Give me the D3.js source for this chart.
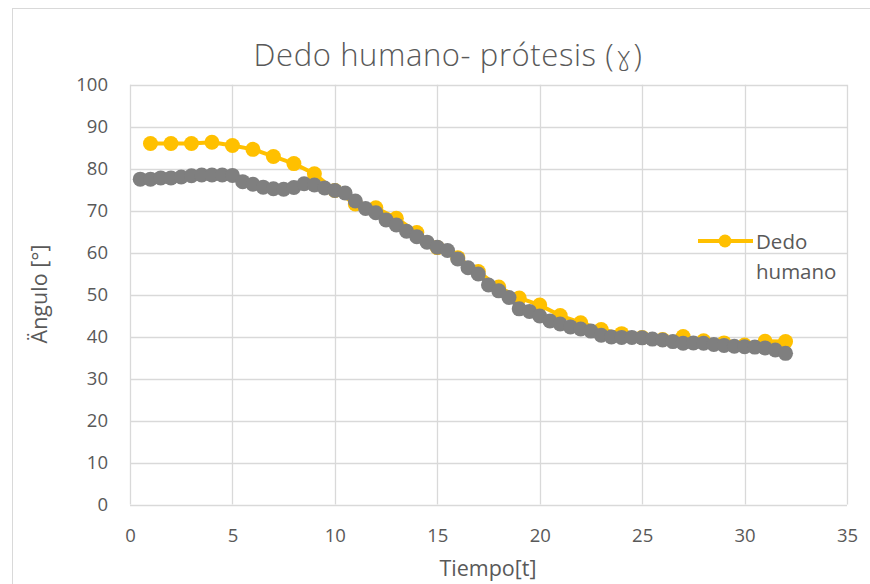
<!DOCTYPE html>
<html><head><meta charset="utf-8">
<script src="https://cdn.jsdelivr.net/npm/d3@7"></script>
<style>
html,body{margin:0;padding:0;background:#fff;}
text{font-family:"Open Sans",sans-serif;fill:#595959;}
</style></head>
<body>
<svg id="chart" width="870" height="584"></svg>
<script>
const title = "Dedo humano- prótesis (ɣ)";
const xTitle = "Tiempo[t]";
const yTitle = "Ängulo [°]";
const legendLabel = ["Dedo", "humano"];
const xTicks = [0,5,10,15,20,25,30,35];
const yTicks = [0,10,20,30,40,50,60,70,80,90,100];

const tDedo = [1,2,3,4,5,6,7,8,9,10,11,12,13,14,15,16,17,18,19,20,21,22,23,24,25,26,27,28,29,30,31,32];
const dedo = [86,86,86,86.3,85.5,84.6,82.9,81.2,78.8,74.8,71.6,70.7,68.2,64.8,61.2,58.8,55.5,51.8,49.2,47.5,45,43.3,41.7,40.7,39.8,39.3,40,39,38.5,38,38.9,38.8];

const tProtesis = [0.5,1,1.5,2,2.5,3,3.5,4,4.5,5,5.5,6,6.5,7,7.5,8,8.5,9,9.5,10,10.5,11,11.5,12,12.5,13,13.5,14,14.5,15,15.5,16,16.5,17,17.5,18,18.5,19,19.5,20,20.5,21,21.5,22,22.5,23,23.5,24,24.5,25,25.5,26,26.5,27,27.5,28,28.5,29,29.5,30,30.5,31,31.5,32];
const protesis = [77.5,77.5,77.8,77.8,78,78.3,78.5,78.5,78.5,78.4,76.9,76.3,75.6,75.2,75.1,75.5,76.4,76.1,75.4,74.8,74.2,72.3,70.5,69.5,67.8,66.6,65.1,63.8,62.5,61.3,60.5,58.5,56.4,54.9,52.3,50.9,49.3,46.6,46,44.9,43.7,43,42.3,41.8,41.3,40.3,39.9,39.8,39.8,39.7,39.4,39.2,38.8,38.4,38.5,38.4,38.1,37.9,37.7,37.6,37.5,37.3,36.8,36];

const svg = d3.select("#chart");
const W = 870, H = 584;
const plot = {left:130, right:847, top:84.7, bottom:504.5};

// chart border
svg.append("rect").attr("x",12.5).attr("y",8.5).attr("width",W).attr("height",H)
  .attr("fill","none").attr("stroke","#d9d9d9").attr("stroke-width",1);

const x = d3.scaleLinear().domain([0,35]).range([plot.left, plot.right]);
const y = d3.scaleLinear().domain([0,100]).range([plot.bottom, plot.top]);

// grid
const g = svg.append("g");
g.selectAll(".hg").data(yTicks).join("line")
  .attr("x1",plot.left).attr("x2",plot.right)
  .attr("y1",d=>Math.round(y(d))+0.5).attr("y2",d=>Math.round(y(d))+0.5)
  .attr("stroke","#d9d9d9").attr("stroke-width",1.3);
g.selectAll(".vg").data(xTicks).join("line")
  .attr("y1",plot.top).attr("y2",plot.bottom)
  .attr("x1",d=>Math.round(x(d))+0.5).attr("x2",d=>Math.round(x(d))+0.5)
  .attr("stroke","#d9d9d9").attr("stroke-width",1.3);

// axes via d3 axis (labels only)
const xAxis = svg.append("g").attr("transform",`translate(0,${plot.bottom})`)
  .call(d3.axisBottom(x).tickValues(xTicks).tickSize(0).tickPadding(24).tickFormat(d3.format("d")));
const yAxis = svg.append("g").attr("transform",`translate(${plot.left},0)`)
  .call(d3.axisLeft(y).tickValues(yTicks).tickSize(0).tickPadding(22).tickFormat(d3.format("d")));
[xAxis,yAxis].forEach(a=>{
  a.select(".domain").remove();
  a.selectAll("text").style("font-size","18.5px").attr("fill","#595959")
   .style("font-family","'Open Sans',sans-serif");
});

// series
const line = d3.line();
const dDedo = tDedo.map((t,i)=>[x(t),y(dedo[i])]);
const dProt = tProtesis.map((t,i)=>[x(t),y(protesis[i])]);

svg.append("path").attr("d",line(dDedo)).attr("fill","none")
  .attr("stroke","#ffc000").attr("stroke-width",4).attr("stroke-linejoin","round");
svg.selectAll(".pd").data(dDedo).join("circle")
  .attr("cx",d=>d[0]).attr("cy",d=>d[1]).attr("r",7.5).attr("fill","#ffc000");

svg.append("path").attr("d",line(dProt)).attr("fill","none")
  .attr("stroke","#7f7f7f").attr("stroke-width",4).attr("stroke-linejoin","round");
svg.selectAll(".pp").data(dProt).join("circle")
  .attr("cx",d=>d[0]).attr("cy",d=>d[1]).attr("r",7.5).attr("fill","#7f7f7f");

// title (gamma glyph rendered with a font that has it, light weight)
const gi = title.indexOf("ɣ");
const tt = svg.append("text").attr("x",448).attr("y",66).attr("text-anchor","middle")
  .style("font-size","31px").style("font-weight","300").style("letter-spacing","0.6px");
tt.append("tspan").text(title.slice(0,gi));
tt.append("tspan").style("font-family","'DejaVu Sans'").style("font-weight","200")
  .style("font-size","27px").text(title.slice(gi,gi+1));
tt.append("tspan").text(title.slice(gi+1));

// axis titles
svg.append("text").attr("x",488).attr("y",576).attr("text-anchor","middle")
  .style("font-size","21.5px").text(xTitle);
svg.append("text").attr("transform","translate(47,294) rotate(-90)").attr("text-anchor","middle")
  .style("font-size","21.5px").text(yTitle);

// legend
const ly = 241;
svg.append("line").attr("x1",698).attr("x2",753).attr("y1",ly).attr("y2",ly)
  .attr("stroke","#ffc000").attr("stroke-width",4);
svg.append("circle").attr("cx",725).attr("cy",ly).attr("r",6.5).attr("fill","#ffc000");
svg.append("text").attr("x",756).attr("y",249).style("font-size","20.5px").text(legendLabel[0]);
svg.append("text").attr("x",756).attr("y",279).style("font-size","20.5px").text(legendLabel[1]);
</script>
</body></html>
